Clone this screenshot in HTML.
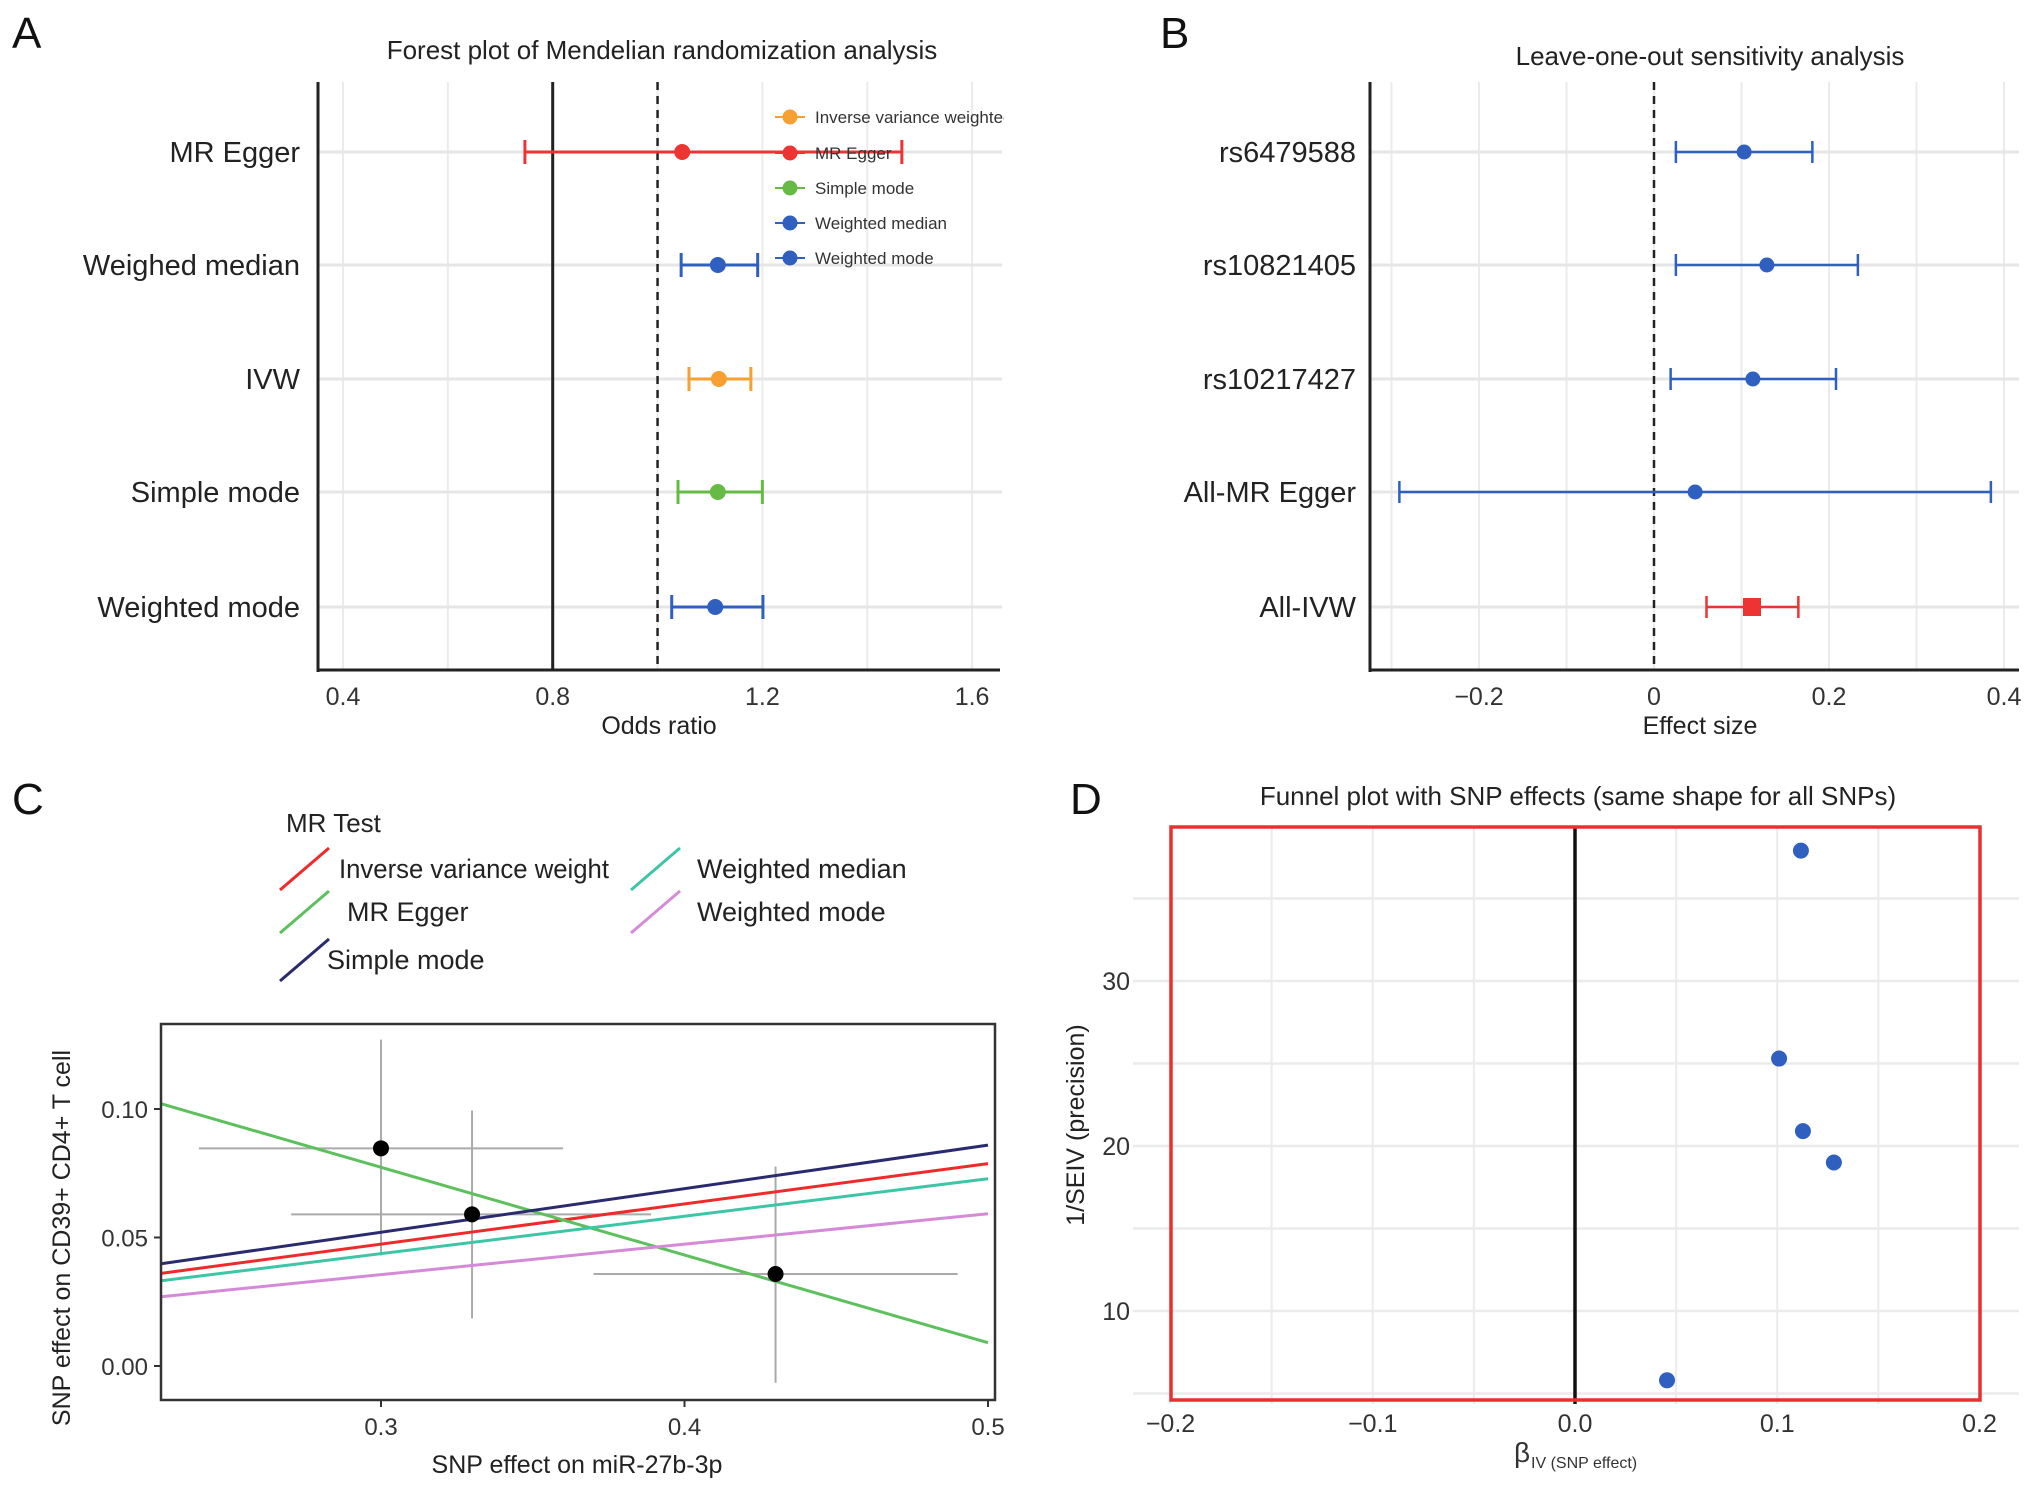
<!DOCTYPE html>
<html><head><meta charset="utf-8">
<style>
html,body{margin:0;padding:0;background:#fff;}
svg{display:block;font-family:"Liberation Sans",sans-serif;}
</style></head>
<body>
<svg id="fig" width="2032" height="1488" viewBox="0 0 2032 1488" xmlns="http://www.w3.org/2000/svg"></svg>
<script>
// ---- Panel A data ----
const aLabels = ["MR Egger","Weighed median","IVW","Simple mode","Weighted mode"];
const aEst = [1.047,1.115,1.117,1.115,1.110];
const aLo  = [0.747,1.045,1.060,1.039,1.027];
const aHi  = [1.466,1.191,1.178,1.200,1.201];
const aColors = ["#ee3333","#2f5fbf","#f5a030","#66bb44","#2f5fbf"];
const aTicks = [0.4,0.8,1.2,1.6];
const aLegend = ["Inverse variance weighted","MR Egger","Simple mode","Weighted median","Weighted mode"];
const aLegendColors = ["#f5a030","#ee3333","#66bb44","#2f5fbf","#2f5fbf"];
// ---- Panel B data ----
const bLabels = ["rs6479588","rs10821405","rs10217427","All-MR Egger","All-IVW"];
const bEst = [0.103,0.129,0.113,0.047,0.112];
const bLo  = [0.025,0.025,0.019,-0.291,0.060];
const bHi  = [0.181,0.233,0.208,0.385,0.165];
const bTicks = [-0.2,0,0.2,0.4];
// ---- Panel C data ----
const cX = [0.30,0.33,0.43];
const cY = [0.0847,0.059,0.0358];
const cXlo = [0.24,0.2704,0.37];
const cXhi = [0.36,0.389,0.49];
const cYlo = [0.043,0.0185,-0.0065];
const cYhi = [0.127,0.0994,0.0776];
const cMethods = ["Inverse variance weight","MR Egger","Simple mode","Weighted median","Weighted mode"];
const cSlope = [0.1567,-0.3413,0.1695,0.1457,0.1185];
const cIntercept = [0.0004,0.1797,0.0012,0.0,0.0];
const cColors = ["#ee2a2a","#5cc05c","#2a2a6e","#3cc6a6","#d58ad8"];
const cXTicks = [0.3,0.4,0.5];
const cYTicks = [0.00,0.05,0.10];
// ---- Panel D data ----
const dBeta = [0.1117,0.1009,0.1127,0.128,0.0455];
const dPrec = [37.9,25.3,20.9,19.0,5.8];
const dXTicks = [-0.2,-0.1,0.0,0.1,0.2];
const dYTicks = [10,20,30];

const NS="http://www.w3.org/2000/svg";
const svg=document.getElementById('fig');
function mk(tag,attrs,parent){const e=document.createElementNS(NS,tag);for(const k in attrs)e.setAttribute(k,attrs[k]);(parent||svg).appendChild(e);return e;}
function txt(s,attrs,parent){const e=mk('text',attrs,parent);e.textContent=s;return e;}

// ======== Panel A ========
const gA=mk('g',{});


const axA=v=>343+(v-0.4)*524.25;
const rowY=[152,265,379,492,607];
let t=txt('A',{x:12,y:48,'font-size':44,fill:'#111'},gA);

t=txt('Forest plot of Mendelian randomization analysis',{x:662,y:59,'font-size':26,'text-anchor':'middle',fill:'#222'},gA);

for(let v=0.4;v<=1.61;v+=0.2){mk('line',{x1:axA(v),x2:axA(v),y1:82,y2:670,stroke:'#ebebeb','stroke-width':2},gA);}
rowY.forEach(y=>mk('line',{x1:318,x2:1002,y1:y,y2:y,stroke:'#e6e6e6','stroke-width':3},gA));
mk('line',{x1:axA(0.8),x2:axA(0.8),y1:82,y2:670,stroke:'#222','stroke-width':3},gA);
mk('line',{x1:axA(1.0),x2:axA(1.0),y1:82,y2:670,stroke:'#222','stroke-width':2.5,'stroke-dasharray':'8,6'},gA);
mk('line',{x1:318,x2:318,y1:82,y2:672,stroke:'#222','stroke-width':3},gA);
mk('line',{x1:317,x2:1000,y1:670,y2:670,stroke:'#222','stroke-width':3},gA);
aTicks.forEach(v=>{const e=txt(v.toFixed(1),{x:axA(v),y:705,'font-size':25,'text-anchor':'middle',fill:'#333'},gA);});
t=txt('Odds ratio',{x:659,y:734,'font-size':25,'text-anchor':'middle',fill:'#222'},gA);

aLabels.forEach((l,i)=>{
  const e=txt(l,{x:300,y:rowY[i]+10,'font-size':29,'text-anchor':'end',fill:'#222'},gA);
  
  const g=mk('g',{stroke:aColors[i],'stroke-width':3},gA);
  
  
  mk('line',{x1:axA(aLo[i]),x2:axA(aHi[i]),y1:rowY[i],y2:rowY[i]},g);
  mk('line',{x1:axA(aLo[i]),x2:axA(aLo[i]),y1:rowY[i]-12,y2:rowY[i]+12},g);
  mk('line',{x1:axA(aHi[i]),x2:axA(aHi[i]),y1:rowY[i]-12,y2:rowY[i]+12},g);
  mk('circle',{cx:axA(aEst[i]),cy:rowY[i],r:8,fill:aColors[i],stroke:'none'},g);
});
const legY=[117,153,188,223,258];
const clipA=mk('clipPath',{id:'clipA'},gA);mk('rect',{x:760,y:90,width:244,height:200},clipA);
const lgA=mk('g',{'clip-path':'url(#clipA)'},gA);

aLegend.forEach((l,i)=>{
  const g=mk('g',{},lgA);
  
  mk('line',{x1:775,x2:805,y1:legY[i],y2:legY[i],stroke:aLegendColors[i],'stroke-width':2},g);
  mk('circle',{cx:790,cy:legY[i],r:7.5,fill:aLegendColors[i]},g);
  txt(l,{x:815,y:legY[i]+6,'font-size':17,fill:'#333'},g);
});

// ======== Panel B ========
const gB=mk('g',{});


const axB=v=>1654+v*875;
t=txt('B',{x:1160,y:48,'font-size':44,fill:'#111'},gB);

t=txt('Leave-one-out sensitivity analysis',{x:1710,y:65,'font-size':26,'text-anchor':'middle',fill:'#222'},gB);

for(let k=-3;k<=4;k++){const v=k*0.1;mk('line',{x1:axB(v),x2:axB(v),y1:82,y2:670,stroke:'#ebebeb','stroke-width':2},gB);}
rowY.forEach(y=>mk('line',{x1:1370,x2:2019,y1:y,y2:y,stroke:'#e6e6e6','stroke-width':3},gB));
mk('line',{x1:axB(0),x2:axB(0),y1:82,y2:670,stroke:'#222','stroke-width':2.5,'stroke-dasharray':'8,6'},gB);
mk('line',{x1:1370,x2:1370,y1:82,y2:672,stroke:'#222','stroke-width':3},gB);
mk('line',{x1:1369,x2:2019,y1:670,y2:670,stroke:'#222','stroke-width':3},gB);
bTicks.forEach(v=>{const e=txt(v===0?'0':(v<0?'\u2212':'')+Math.abs(v).toFixed(1),{x:axB(v),y:705,'font-size':25,'text-anchor':'middle',fill:'#333'},gB);});
t=txt('Effect size',{x:1700,y:734,'font-size':25,'text-anchor':'middle',fill:'#222'},gB);

bLabels.forEach((l,i)=>{
  const e=txt(l,{x:1356,y:rowY[i]+10,'font-size':29,'text-anchor':'end',fill:'#222'},gB);
  
  const col=i===4?'#ee3333':'#2f5fbf';
  const g=mk('g',{stroke:col,'stroke-width':2.5},gB);
  
  
  mk('line',{x1:axB(bLo[i]),x2:axB(bHi[i]),y1:rowY[i],y2:rowY[i]},g);
  mk('line',{x1:axB(bLo[i]),x2:axB(bLo[i]),y1:rowY[i]-11,y2:rowY[i]+11},g);
  mk('line',{x1:axB(bHi[i]),x2:axB(bHi[i]),y1:rowY[i]-11,y2:rowY[i]+11},g);
  if(i===4) mk('rect',{x:axB(bEst[i])-9,y:rowY[i]-9,width:18,height:18,fill:col,stroke:'none'},g);
  else mk('circle',{cx:axB(bEst[i]),cy:rowY[i],r:7.5,fill:col,stroke:'none'},g);
});

// ======== Panel C ========
const gC=mk('g',{});


const cxS=v=>381+(v-0.3)*3035;
const cyS=v=>1366-v*2570;
t=txt('C',{x:12,y:814,'font-size':44,fill:'#111'},gC);

t=txt('MR Test',{x:286,y:832,'font-size':26,fill:'#222'},gC);

const cLegPos=[[280,869,339],[280,912,347],[280,960,327],[631,869,697],[631,912,697]];
cMethods.forEach((m,i)=>{
  const g=mk('g',{},gC);
  
  const [lx,ly,tx]=cLegPos[i];
  mk('line',{x1:lx,y1:ly+21,x2:lx+49,y2:ly-21,stroke:cColors[i],'stroke-width':3},g);
  const e=txt(m,{x:tx,y:ly+9,'font-size':27,fill:'#222'},g);
  if(i===0){e.setAttribute('textLength','270');e.setAttribute('lengthAdjust','spacingAndGlyphs');}
});
const clipC=mk('clipPath',{id:'clipC'},gC);mk('rect',{x:161,y:1024,width:834,height:376},clipC);
const pc=mk('g',{'clip-path':'url(#clipC)'},gC);
cX.forEach((x,i)=>{
  const g=mk('g',{stroke:'#aaa','stroke-width':2},pc);
  
  mk('line',{x1:cxS(cXlo[i]),x2:cxS(cXhi[i]),y1:cyS(cY[i]),y2:cyS(cY[i])},g);
  mk('line',{x1:cxS(x),x2:cxS(x),y1:cyS(cYlo[i]),y2:cyS(cYhi[i])},g);
});
const x0=0.2275,x1=0.5;
cMethods.forEach((m,i)=>{
  const l=mk('line',{x1:cxS(x0),x2:cxS(x1),y1:cyS(cIntercept[i]+cSlope[i]*x0),y2:cyS(cIntercept[i]+cSlope[i]*x1),stroke:cColors[i],'stroke-width':3},pc);
  
  
});
cX.forEach((x,i)=>{
  const c=mk('circle',{cx:cxS(x),cy:cyS(cY[i]),r:8,fill:'#000'},pc);
  
});
mk('rect',{x:161,y:1024,width:834,height:376,fill:'none',stroke:'#333','stroke-width':2.5},gC);
cXTicks.forEach(v=>{mk('line',{x1:cxS(v),x2:cxS(v),y1:1400,y2:1407,stroke:'#333','stroke-width':2},gC);const e=txt(v.toFixed(1),{x:cxS(v),y:1435,'font-size':24,'text-anchor':'middle',fill:'#333'},gC);});
cYTicks.forEach(v=>{mk('line',{x1:154,x2:161,y1:cyS(v),y2:cyS(v),stroke:'#333','stroke-width':2},gC);const e=txt(v.toFixed(2),{x:148,y:cyS(v)+9,'font-size':24,'text-anchor':'end',fill:'#333'},gC);});
t=txt('SNP effect on miR-27b-3p',{x:577,y:1473,'font-size':25,'text-anchor':'middle',fill:'#222'},gC);

t=txt('SNP effect on CD39+ CD4+ T cell',{x:0,y:0,'font-size':25,'text-anchor':'middle',fill:'#222',transform:'translate(70,1238) rotate(-90)'},gC);


// ======== Panel D ========
const gD=mk('g',{});


const dxS=v=>1575+v*2022.5;
const dyS=v=>1146-(v-20)*16.5;
t=txt('D',{x:1070,y:814,'font-size':44,fill:'#111'},gD);

t=txt('Funnel plot with SNP effects (same shape for all SNPs)',{x:1578,y:805,'font-size':26,'text-anchor':'middle',fill:'#222'},gD);

for(let k=-4;k<=4;k++){mk('line',{x1:dxS(k*0.05),x2:dxS(k*0.05),y1:827,y2:1404,stroke:'#ebebeb','stroke-width':2},gD);}
for(let v=5;v<=35;v+=5){mk('line',{x1:1133,x2:2019,y1:dyS(v),y2:dyS(v),stroke:'#ebebeb','stroke-width':2.5},gD);}
mk('line',{x1:dxS(0),x2:dxS(0),y1:827,y2:1404,stroke:'#111','stroke-width':3.5},gD);
mk('rect',{x:1171,y:827,width:809,height:573,fill:'none',stroke:'#e83030','stroke-width':3.5},gD);
dBeta.forEach((b,i)=>{const c=mk('circle',{cx:dxS(b),cy:dyS(dPrec[i]),r:8,fill:'#2f5fbf'},gD);});
dXTicks.forEach(v=>{const e=txt((v<0?'\u2212':'')+Math.abs(v).toFixed(1),{x:dxS(v),y:1432,'font-size':25,'text-anchor':'middle',fill:'#333'},gD);});
dYTicks.forEach(v=>{const e=txt(String(v),{x:1130,y:dyS(v)+9,'font-size':25,'text-anchor':'end',fill:'#333'},gD);});
t=txt('\u03B2',{x:1514,y:1462,'font-size':28,fill:'#333'},gD);

txt('IV (SNP effect)',{x:1531,y:1468,'font-size':16,fill:'#333'},gD);
t=txt('1/SEIV (precision)',{x:0,y:0,'font-size':25,'text-anchor':'middle',fill:'#222',transform:'translate(1084,1125) rotate(-90)'},gD);

</script>
</body></html>
